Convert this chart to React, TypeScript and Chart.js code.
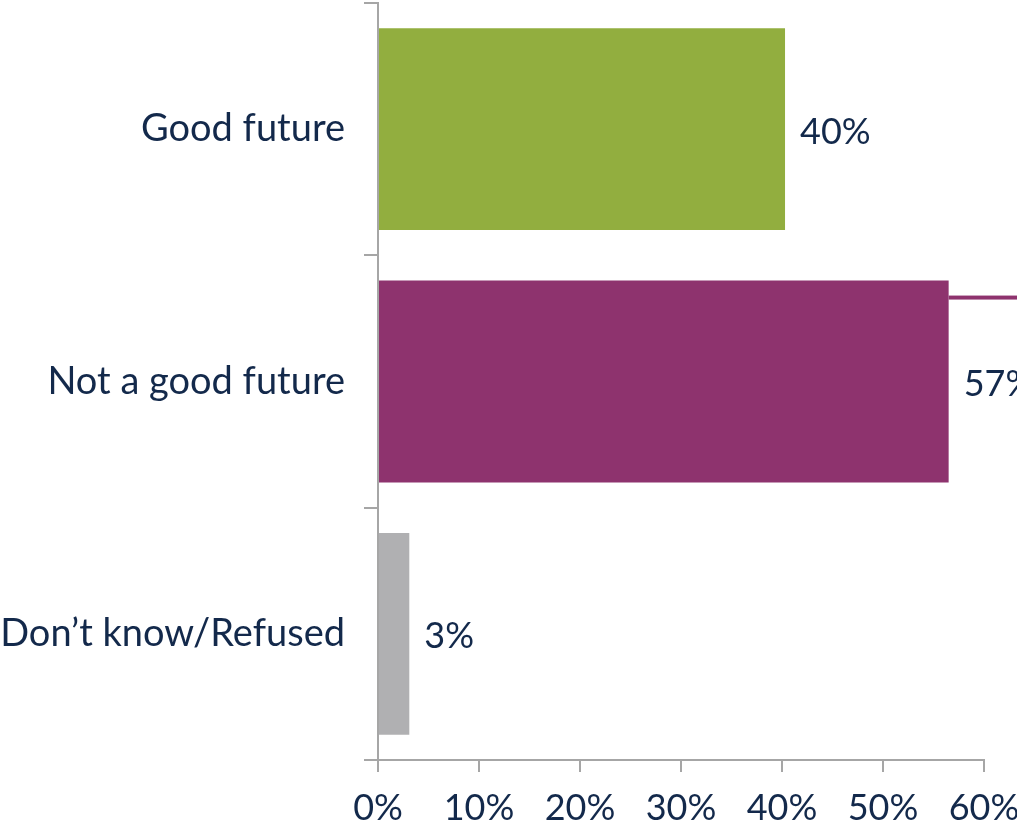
import React, { useEffect, useRef } from "react";
import { Chart, registerables } from "chart.js";

Chart.register(...registerables);

const categories = ["Good future", "Not a good future", "Don\u2019t know/Refused"];
const values = [40.3, 56.5, 3.1];
const valueLabels = ["40%", "57%", "3%"];
const barColors = ["#92AE3F", "#8E336E", "#B0B0B2"];
const xTicks = [0, 10, 20, 30, 40, 50, 60];

const TEXT = "#13294B";
const AXIS = "#A6A6A6";
const FONT = "Lato, 'Open Sans', sans-serif";
const NUM_FONT = "Lato, sans-serif";

const labelPlugin = {
  id: "valueLabels",
  afterDatasetsDraw(chart: any) {
    const ctx = chart.ctx;
    const meta = chart.getDatasetMeta(0);
    ctx.save();
    // decorative accent line next to the second bar
    const b1 = meta.data[1];
    if (b1) {
      const top = b1.y - b1.height / 2;
      ctx.fillStyle = barColors[1];
      ctx.fillRect(b1.x, top + 15, chart.width - b1.x, 4);
    }
    ctx.font = `36px ${NUM_FONT}`;
    ctx.fillStyle = TEXT;
    ctx.textAlign = "left";
    ctx.textBaseline = "middle";
    meta.data.forEach((bar: any, i: number) => {
      ctx.fillText(valueLabels[i], bar.x + 15, bar.y + 3);
    });
    ctx.restore();
  },
};

export default function App() {
  const ref = useRef<HTMLCanvasElement>(null);
  useEffect(() => {
    if (!ref.current) return;
    const chart = new Chart(ref.current, {
      type: "bar",
      data: {
        labels: categories,
        datasets: [
          {
            data: values,
            backgroundColor: barColors,
            borderWidth: 0,
            barPercentage: 0.8,
            categoryPercentage: 1,
          },
        ],
      },
      options: {
        indexAxis: "y",
        animation: false,
        responsive: false,
        layout: { padding: { top: 3, right: 76, left: 0, bottom: 0 } },
        plugins: { legend: { display: false }, tooltip: { enabled: false } },
        scales: {
          x: {
            min: 0,
            max: 60,
            afterBuildTicks: (scale: any) => {
              scale.ticks = xTicks.map((v) => ({ value: v }));
            },
            afterFit: (scale: any) => {
              scale.height = 66;
              scale.paddingLeft = 0;
              scale.paddingRight = 0;
            },
            grid: {
              drawOnChartArea: false,
              drawTicks: true,
              tickLength: 12,
              color: AXIS,
              lineWidth: 2,
            },
            border: { display: true, color: AXIS, width: 2 },
            ticks: {
              callback: (v: any) => `${v}%`,
              color: TEXT,
              font: { family: NUM_FONT, size: 36 },
              padding: 15,
              maxRotation: 0,
            },
          },
          y: {
            afterFit: (scale: any) => {
              scale.width = 378;
              scale.paddingTop = 0;
              scale.paddingBottom = 0;
            },
            grid: {
              offset: true,
              drawOnChartArea: false,
              drawTicks: true,
              tickLength: 14,
              color: AXIS,
              lineWidth: 2,
            },
            border: { display: true, color: AXIS, width: 2 },
            ticks: {
              color: TEXT,
              font: { family: FONT, size: 38 },
              padding: 19,
            },
          },
        },
      },
      plugins: [labelPlugin],
    });
    return () => chart.destroy();
  }, []);
  return (
    <div
      style={{
        position: "absolute",
        left: 0,
        top: 0,
        width: 1017,
        height: 826,
        overflow: "hidden",
        background: "#fff",
      }}
    >
      <canvas ref={ref} width={1060} height={826} style={{ width: 1060, height: 826, display: "block" }} />
    </div>
  );
}
